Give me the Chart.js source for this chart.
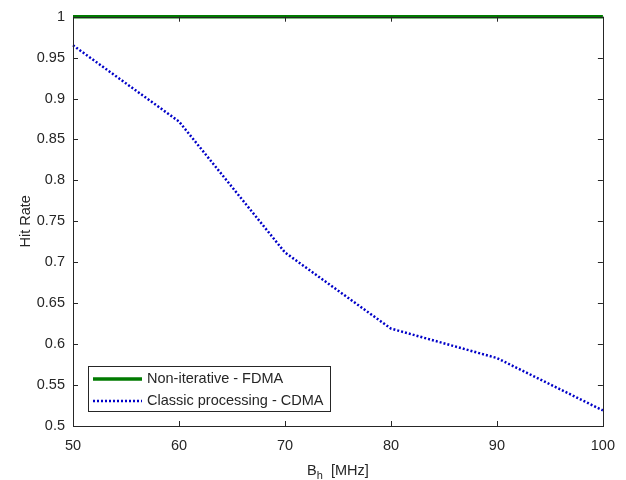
<!DOCTYPE html>
<html>
<head>
<meta charset="utf-8">
<script src="https://cdn.jsdelivr.net/npm/chart.js@4/dist/chart.umd.min.js"></script>
<style>
  html, body { margin: 0; padding: 0; background: #fff; }
  #wrap { width: 626px; height: 480px; }
</style>
</head>
<body>
<div id="wrap"><canvas id="hitRate" width="626" height="480"></canvas></div>
<script>
// bandwidth B_h in MHz
const bandwidths = [50, 60, 70, 80, 90, 100];
const nonIterativeFdma = [1, 1, 1, 1, 1, 1];
const classicCdma = [0.965, 0.872, 0.712, 0.619, 0.583, 0.519];
const xTicks = [50, 60, 70, 80, 90, 100];
const yTicks = [0.5, 0.55, 0.6, 0.65, 0.7, 0.75, 0.8, 0.85, 0.9, 0.95, 1];

const axisColor = '#262626';
const fontFamily = 'Helvetica, Arial, "Liberation Sans", sans-serif';
const fontSize = 14.5;

// box around the axes, inward ticks on all four sides, axis titles and legend
const matlabAxes = {
    id: 'matlabAxes',
    afterDatasetsDraw(chart) {
        const ctx = chart.ctx;
        const area = chart.chartArea;
        const xs = chart.scales.x;
        const ys = chart.scales.y;
        ctx.save();
        ctx.strokeStyle = axisColor;
        ctx.lineWidth = 1;
        ctx.beginPath();
        xTicks.forEach(v => {
            const px = Math.round(xs.getPixelForValue(v)) + 0.5;
            ctx.moveTo(px, area.bottom); ctx.lineTo(px, area.bottom - 5);
            ctx.moveTo(px, area.top); ctx.lineTo(px, area.top + 5);
        });
        yTicks.forEach(v => {
            const py = Math.round(ys.getPixelForValue(v)) + 0.5;
            ctx.moveTo(area.left, py); ctx.lineTo(area.left + 5, py);
            ctx.moveTo(area.right, py); ctx.lineTo(area.right - 5, py);
        });
        ctx.stroke();
        ctx.strokeRect(Math.round(area.left) + 0.5, Math.round(area.top) + 0.5,
            Math.round(area.right - area.left), Math.round(area.bottom - area.top));

        // axis titles
        ctx.fillStyle = axisColor;
        ctx.textBaseline = 'alphabetic';
        const cx = (area.left + area.right) / 2;
        const parts = [['B', fontSize, 0], ['h', 11, 4], ['  [MHz]', fontSize, 0]];
        let total = 0;
        parts.forEach(p => { ctx.font = p[1] + 'px ' + fontFamily; total += ctx.measureText(p[0]).width; });
        let x = cx - total / 2;
        parts.forEach(p => {
            ctx.font = p[1] + 'px ' + fontFamily;
            ctx.textAlign = 'left';
            ctx.fillText(p[0], x, 475 + p[2]);
            x += ctx.measureText(p[0]).width;
        });
        ctx.save();
        ctx.translate(30, (area.top + area.bottom) / 2);
        ctx.rotate(-Math.PI / 2);
        ctx.font = fontSize + 'px ' + fontFamily;
        ctx.textAlign = 'center';
        ctx.fillText('Hit Rate', 0, 0);
        ctx.restore();

        // legend in the lower left corner
        const box = { left: 88, top: 366, width: 242, height: 45 };
        ctx.fillStyle = '#fff';
        ctx.fillRect(box.left, box.top, box.width, box.height);
        ctx.strokeStyle = axisColor;
        ctx.strokeRect(box.left + 0.5, box.top + 0.5, box.width, box.height);
        chart.data.datasets.forEach((ds, i) => {
            const y = box.top + 13 + i * 22;
            ctx.strokeStyle = ds.borderColor;
            ctx.lineWidth = ds.borderWidth;
            ctx.setLineDash(ds.borderDash || []);
            ctx.beginPath();
            ctx.moveTo(box.left + 5, y);
            ctx.lineTo(box.left + 54, y);
            ctx.stroke();
            ctx.setLineDash([]);
            ctx.fillStyle = axisColor;
            ctx.font = fontSize + 'px ' + fontFamily;
            ctx.textAlign = 'left';
            ctx.textBaseline = 'middle';
            ctx.fillText(ds.label, box.left + 59, y);
        });
        ctx.restore();
    }
};

new Chart(document.getElementById('hitRate'), {
    type: 'line',
    data: {
        datasets: [{
            label: 'Non-iterative - FDMA',
            data: bandwidths.map((b, i) => ({ x: b, y: nonIterativeFdma[i] })),
            borderColor: '#007a00',
            borderWidth: 3.5,
            pointRadius: 0,
            clip: false
        }, {
            label: 'Classic processing - CDMA',
            data: bandwidths.map((b, i) => ({ x: b, y: classicCdma[i] })),
            borderColor: '#0000c8',
            borderWidth: 2.5,
            borderDash: [2, 2],
            pointRadius: 0,
            clip: false
        }]
    },
    options: {
        responsive: false,
        animation: false,
        layout: { padding: { left: 0, right: 22, top: 10, bottom: 0 } },
        plugins: {
            legend: { display: false },
            tooltip: { enabled: false }
        },
        scales: {
            x: {
                type: 'linear',
                min: 50,
                max: 100,
                afterBuildTicks: s => { s.ticks = xTicks.map(v => ({ value: v })); },
                afterFit: s => { s.height = 54; },
                grid: { display: false, drawTicks: false },
                border: { display: false },
                ticks: {
                    color: axisColor,
                    font: { family: fontFamily, size: fontSize },
                    padding: 11,
                    maxRotation: 0
                }
            },
            y: {
                type: 'linear',
                min: 0.5,
                max: 1,
                afterBuildTicks: s => { s.ticks = yTicks.map(v => ({ value: v })); },
                afterFit: s => { s.width = 73; },
                grid: { display: false, drawTicks: false },
                border: { display: false },
                ticks: {
                    color: axisColor,
                    font: { family: fontFamily, size: fontSize },
                    padding: 8,
                    callback: v => String(Math.round(v * 100) / 100)
                }
            }
        }
    },
    plugins: [matlabAxes]
});
</script>
</body>
</html>
